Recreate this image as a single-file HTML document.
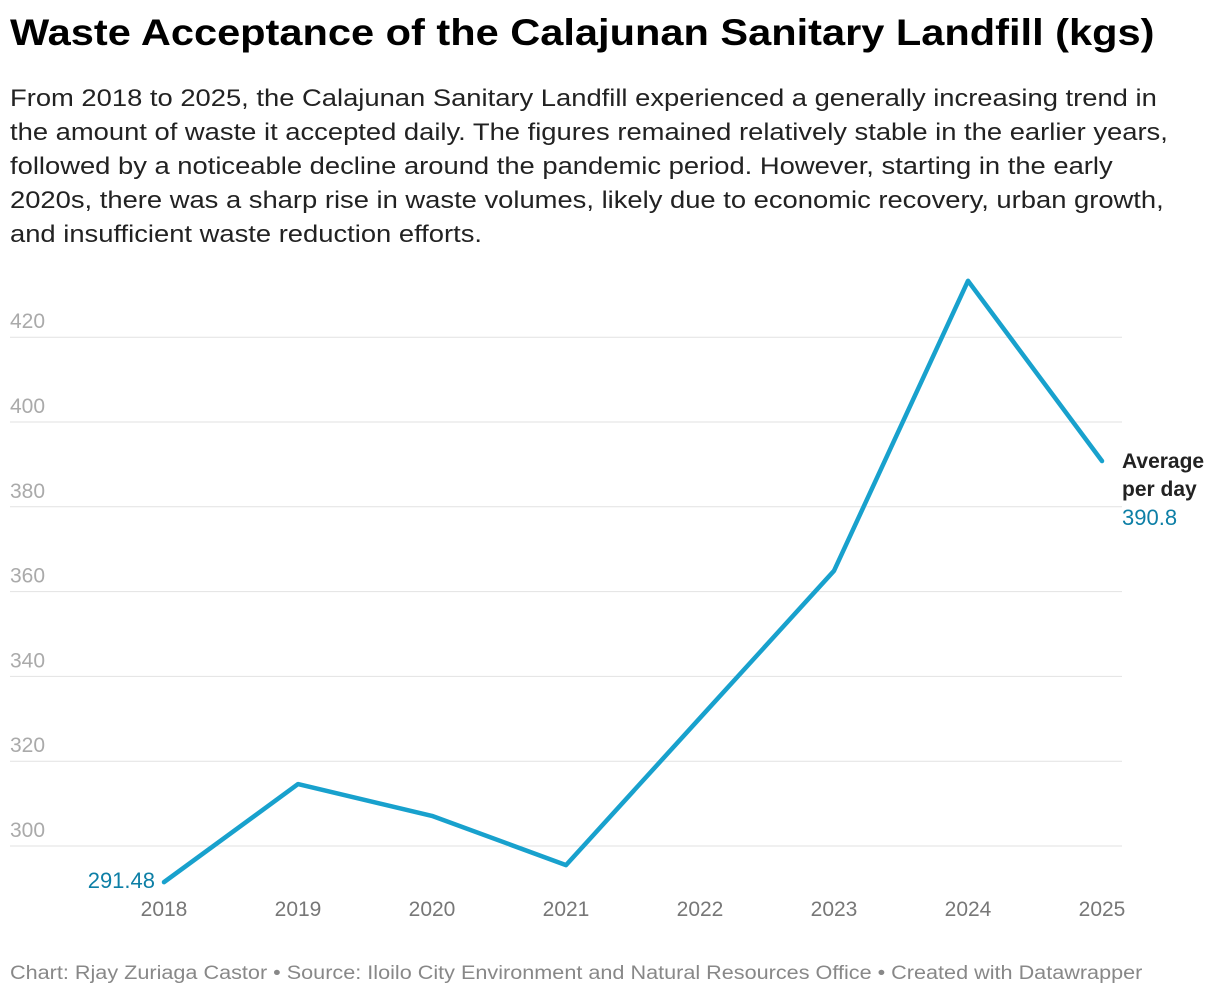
<!DOCTYPE html>
<html><head><meta charset="utf-8">
<style>
body{margin:0;background:#fff;font-family:"Liberation Sans",sans-serif;}
#wrap{position:relative;width:1220px;height:998px;overflow:hidden;}
h1{position:absolute;left:10px;top:12px;margin:0;font-size:37px;font-weight:bold;color:#000;white-space:nowrap;transform:scaleX(1.123);transform-origin:0 0;}
#sub{position:absolute;left:10px;top:82px;margin:0;font-size:24px;line-height:34px;color:#222;white-space:nowrap;transform:scaleX(1.14);transform-origin:0 0;}
#foot{position:absolute;left:10px;top:963px;font-size:19px;color:#888;white-space:nowrap;transform:scaleX(1.138);transform-origin:0 0;}
</style></head><body>
<div id="wrap">
<h1>Waste Acceptance of the Calajunan Sanitary Landfill (kgs)</h1>
<p id="sub">From 2018 to 2025, the Calajunan Sanitary Landfill experienced a generally increasing trend in<br>the amount of waste it accepted daily. The figures remained relatively stable in the earlier years,<br>followed by a noticeable decline around the pandemic period. However, starting in the early<br>2020s, there was a sharp rise in waste volumes, likely due to economic recovery, urban growth,<br>and insufficient waste reduction efforts.</p>
<svg id="chart" width="1220" height="998" style="position:absolute;left:0;top:0"></svg>
<div id="foot">Chart: Rjay Zuriaga Castor • Source: Iloilo City Environment and Natural Resources Office • Created with Datawrapper</div>
</div>
<script>
const years=["2018","2019","2020","2021","2022","2023","2024","2025"];
const values=[291.48,314.6,307.1,295.5,330.2,364.9,433.3,390.8];
const yTicks=[300,320,340,360,380,400,420];
const NS="http://www.w3.org/2000/svg";
const svg=document.getElementById('chart');
function xS(i){return 164+i*(1102-164)/(years.length-1);}
function yS(v){return 846-(v-300)*4.24;}
function mk(t,a){const e=document.createElementNS(NS,t);for(const k in a)e.setAttribute(k,a[k]);svg.appendChild(e);return e;}
yTicks.forEach(v=>{
  const l=mk('line',{x1:10,x2:1122,y1:yS(v),y2:yS(v),stroke:'#e2e2e2','stroke-width':1});
  
  
  const t=mk('text',{x:10,y:yS(v)-9,'font-size':21,fill:'#aaa','font-family':'Liberation Sans, sans-serif'});
  t.textContent=v;
  
  
});
years.forEach((y,i)=>{
  const t=mk('text',{x:xS(i),y:916,'font-size':21,fill:'#777','text-anchor':'middle','font-family':'Liberation Sans, sans-serif'});
  t.textContent=y;
  
  
});
const p=mk('polyline',{points:values.map((v,i)=>xS(i)+','+yS(v)).join(' '),fill:'none',stroke:'#18a1cd','stroke-width':4.5,'stroke-linejoin':'round','stroke-linecap':'round'});


const f=mk('text',{x:xS(0)-9,y:yS(values[0])+6,'font-size':22,fill:'#0d7fa6','text-anchor':'end','font-family':'Liberation Sans, sans-serif'});
f.textContent=values[0].toFixed(2);


const n=values.length-1;
const a=mk('text',{x:1122,y:468,'font-size':21,'font-weight':'bold',fill:'#222','font-family':'Liberation Sans, sans-serif'});
a.textContent='Average';


const b=mk('text',{x:1122,y:496,'font-size':21,'font-weight':'bold',fill:'#222','font-family':'Liberation Sans, sans-serif'});
b.textContent='per day';


const c=mk('text',{x:1122,y:525,'font-size':22,fill:'#0d7fa6','font-family':'Liberation Sans, sans-serif'});
c.textContent=values[n];


</script>
</body></html>
